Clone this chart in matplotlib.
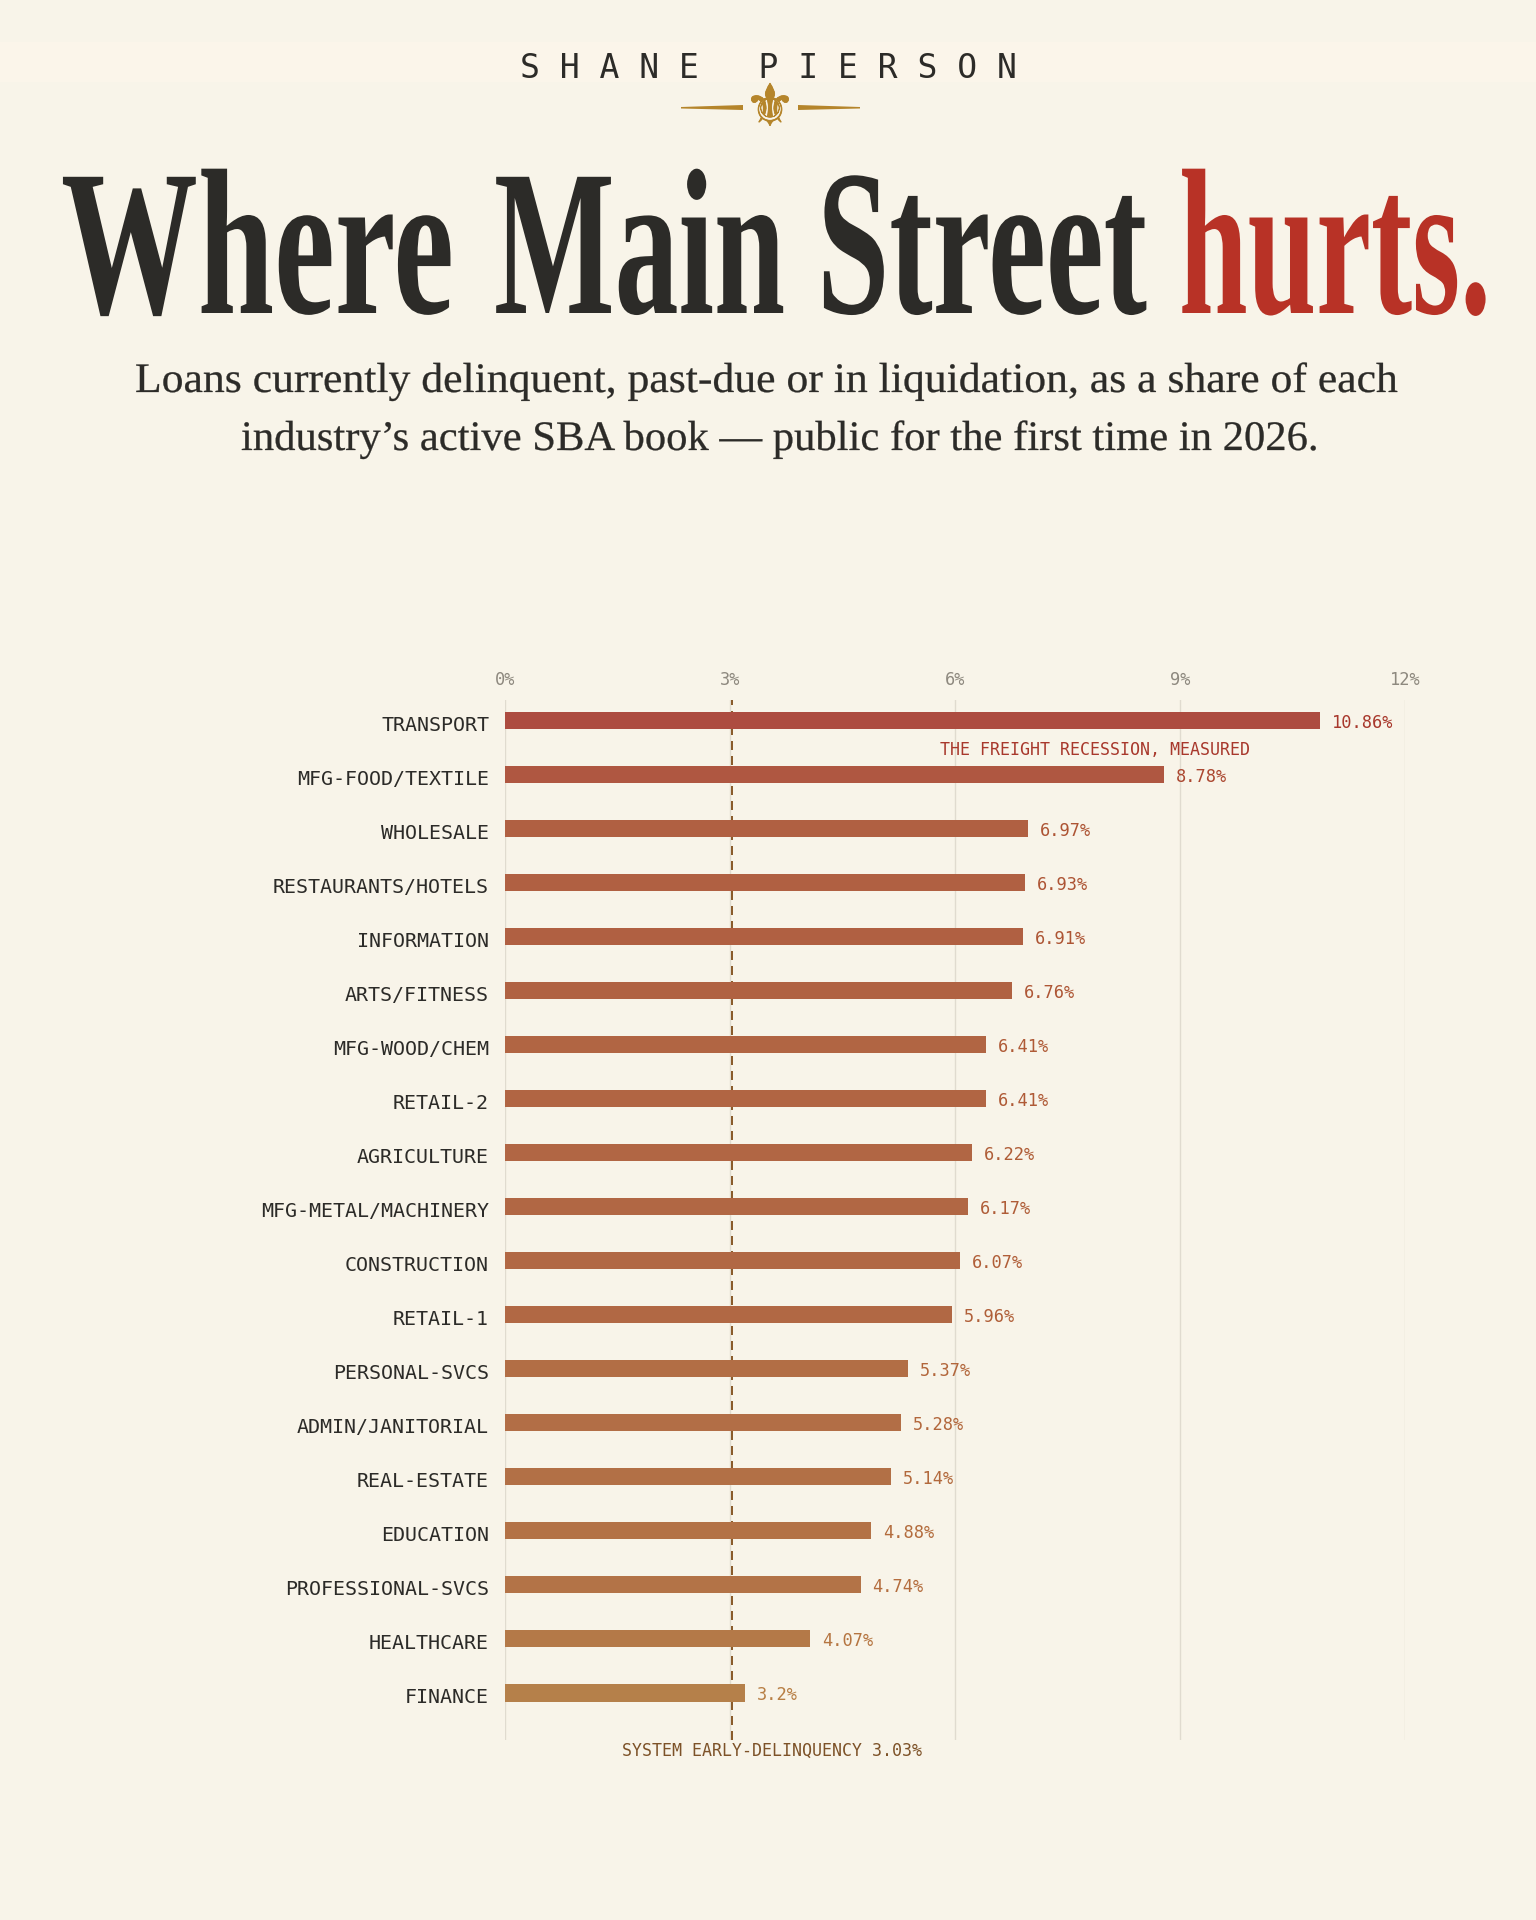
"""
Where Main Street hurts: SBA delinquency share by industry.
Layout is worked out in pixels on a 1536x1920 canvas.
"""

import matplotlib
matplotlib.use("Agg")
import matplotlib.pyplot as plt
import matplotlib.patheffects as pe
from matplotlib.colors import LinearSegmentedColormap, Normalize
from matplotlib.patches import Polygon, Rectangle
from matplotlib.text import Text
from matplotlib.transforms import Affine2D, Bbox, ScaledTranslation

# ── Data ───────────────────────────────────────────────────────────────────────
industries = ["TRANSPORT", "MFG-FOOD/TEXTILE", "WHOLESALE", "RESTAURANTS/HOTELS",
              "INFORMATION", "ARTS/FITNESS", "MFG-WOOD/CHEM", "RETAIL-2",
              "AGRICULTURE", "MFG-METAL/MACHINERY", "CONSTRUCTION", "RETAIL-1",
              "PERSONAL-SVCS", "ADMIN/JANITORIAL", "REAL-ESTATE", "EDUCATION",
              "PROFESSIONAL-SVCS", "HEALTHCARE", "FINANCE"]
delinquency = [10.86, 8.78, 6.97, 6.93, 6.91, 6.76, 6.41, 6.41, 6.22, 6.17,
               6.07, 5.96, 5.37, 5.28, 5.14, 4.88, 4.74, 4.07, 3.2]
x_ticks = [0, 3, 6, 9, 12]
system_rate = 3.03

# ── Palette ────────────────────────────────────────────────────────────────────
COLORS = {
    "paper": "#f8f4e9",
    "band":  "#fbf5ea",
    "ink":   "#2c2b28",
    "red":   "#b83226",
    "note":  "#a8382c",
    "grid":  "#e0dbcf",
    "tick":  "#8e897f",
    "gold":  "#b5852b",
    "dash":  "#8a5c2c",
    "sys":   "#7d5228",
}
bar_cmap = LinearSegmentedColormap.from_list(
    "bars", [(0.0, "#b5804a"), (0.49, "#b06042"), (1.0, "#ad4c40")])
label_cmap = LinearSegmentedColormap.from_list(
    "labels", [(0.0, "#b87f45"), (0.49, "#ad5434"), (1.0, "#a8382c")])

W, H = 1536, 1920
MONO = "DejaVu Sans Mono"
SERIF = "Liberation Serif"

fig = plt.figure(figsize=(W / 100, H / 100), dpi=100, facecolor=COLORS["paper"])
# top-down pixel coordinates for the masthead
px = Affine2D().scale(1, -1).translate(0, H)


def pt(pixels):
    return pixels * 0.72


class Squeeze(pe.AbstractPathEffect):
    """Draws text narrower than the font's natural set width."""

    def __init__(self, sx, stroke=0.0):
        super().__init__()
        self.sx, self.stroke = sx, stroke

    def draw_path(self, renderer, gc, tpath, affine, rgbFace=None):
        ox = affine.get_matrix()[0, 2]
        gc0 = renderer.new_gc()
        gc0.copy_properties(gc)
        if self.stroke:
            gc0.set_linewidth(self.stroke)
            gc0.set_foreground(rgbFace)
        squeeze = Affine2D().translate(-ox, 0).scale(self.sx, 1).translate(ox, 0)
        renderer.draw_path(gc0, tpath, affine + squeeze, rgbFace)
        gc0.restore()


class NarrowText(Text):
    sx = 1.0

    def _get_layout(self, renderer):
        bbox, info, descent = super()._get_layout(renderer)
        bbox = Bbox.from_bounds(bbox.x0, bbox.y0, bbox.width * self.sx, bbox.height)
        return bbox, info, descent


def fitted_text(x, baseline, s, width, size, color, weight="normal", stroke=0.0):
    t = NarrowText(x, baseline, s, transform=px, fontsize=pt(size), color=color,
                   family=SERIF, fontweight=weight, ha="left", va="baseline")
    fig.add_artist(t)
    t.sx = width / t.get_window_extent(fig.canvas.get_renderer()).width
    t.set_path_effects([Squeeze(t.sx, stroke)])
    return t


# ── Masthead ───────────────────────────────────────────────────────────────────
fig.add_artist(Rectangle((0, 42), W, 40, transform=px, facecolor=COLORS["band"],
                         edgecolor="none", zorder=-5))
fig.text(768, 68, "S H A N E   P I E R S O N", transform=px, family=MONO,
         fontsize=pt(33), color=COLORS["ink"], ha="center", va="center")
fig.text(770, 109, "\u269c", transform=px, family="DejaVu Sans", fontsize=pt(58),
         color=COLORS["gold"], ha="center", va="center",
         path_effects=[pe.withStroke(linewidth=0.6, foreground=COLORS["gold"])])
fig.add_artist(Polygon([(681, 107), (743, 105), (743, 110), (681, 108.5)], transform=px,
                       facecolor=COLORS["gold"], edgecolor="none"))
fig.add_artist(Polygon([(798, 105), (860, 107), (860, 108.5), (798, 110)], transform=px,
                       facecolor=COLORS["gold"], edgecolor="none"))

# each headline word is set to its own measure
fitted_text(61, 313, "Where", 393, 208, COLORS["ink"], "bold")
fitted_text(494, 313, "Main", 291, 208, COLORS["ink"], "bold")
fitted_text(817, 313, "Street", 330, 208, COLORS["ink"], "bold")
fitted_text(1179, 313, "hurts.", 312, 208, COLORS["red"], "bold")

fitted_text(135, 392, "Loans currently delinquent, past-due or in liquidation, as a share of each",
            1263, 42, COLORS["ink"], stroke=0.2)
fitted_text(241, 450, "industry\u2019s active SBA book \u2014 public for the first time in 2026.",
            1077, 42, COLORS["ink"], stroke=0.2)

# ── Chart ──────────────────────────────────────────────────────────────────────
ax = fig.add_axes([505 / W, 1 - 1740 / H, 900 / W, 1040 / H], facecolor="none")
positions = list(range(len(industries)))
norm = Normalize(min(delinquency), max(delinquency))

ax.barh(positions, delinquency, height=0.315,
        color=[bar_cmap(norm(v)) for v in delinquency], zorder=3)
ax.set_xlim(0, 12)
ax.set_ylim(18.87, -0.38)

ax.xaxis.tick_top()
ax.set_xticks(x_ticks, [f"{t}%" for t in x_ticks])
ax.set_yticks(positions, industries)
ax.tick_params(axis="x", length=0, pad=pt(11), labelsize=pt(17), labelcolor=COLORS["tick"])
ax.tick_params(axis="y", length=0, pad=pt(16), labelsize=pt(20), labelcolor=COLORS["ink"])
for lab in ax.get_xticklabels() + ax.get_yticklabels():
    lab.set_family(MONO)
nudge = ScaledTranslation(0, -3 / 100, fig.dpi_scale_trans)
for lab in ax.get_yticklabels():
    lab.set_transform(lab.get_transform() + nudge)

ax.spines[:].set_visible(False)
ax.grid(True, axis="x", color=COLORS["grid"], linewidth=pt(1.4), zorder=0)
ax.set_axisbelow(True)

ax.axvline(system_rate, color=COLORS["dash"], linewidth=pt(2), dashes=(4.5, 3), zorder=2)

for i, v in enumerate(delinquency):
    ax.annotate(f"{v:g}%", (v, i), xytext=(pt(12), pt(-2)), textcoords="offset points",
                family=MONO, fontsize=pt(17), color=label_cmap(norm(v)),
                ha="left", va="center", zorder=4)

ax.text(5.8, 0.55, "THE FREIGHT RECESSION, MEASURED", family=MONO, fontsize=pt(16.6),
        color=COLORS["note"], ha="left", va="center", zorder=4)
ax.text(1.56, 19.07, f"SYSTEM EARLY-DELINQUENCY {system_rate}%", family=MONO,
        fontsize=pt(16.6), color=COLORS["sys"], ha="left", va="center", clip_on=False)

fig.savefig("out.png", dpi=100, facecolor=fig.get_facecolor())
